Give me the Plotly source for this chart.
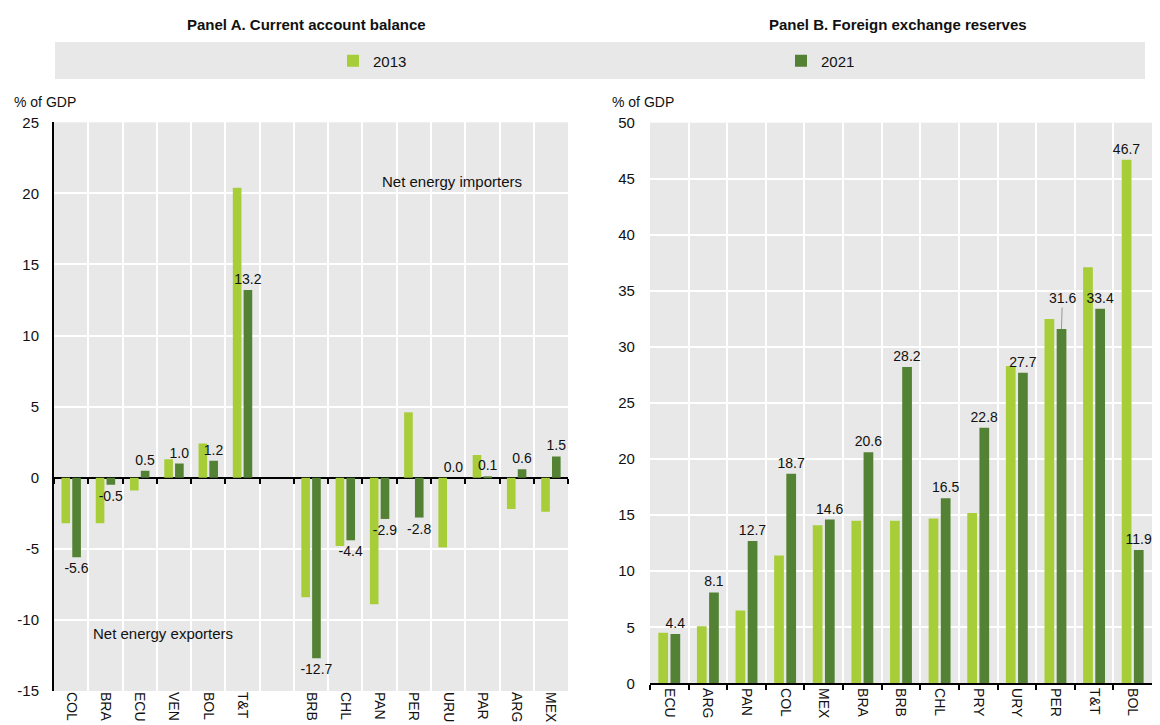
import plotly.graph_objects as go

# Panel A: current account balance (% of GDP); " " is the gap between groups
ca_countries = ["COL", "BRA", "ECU", "VEN", "BOL", "T&T", " ",
                "BRB", "CHL", "PAN", "PER", "URU", "PAR", "ARG", "MEX"]
ca_2013 = [-3.2, -3.2, -0.9, 1.3, 2.4, 20.4, None,
           -8.4, -4.8, -8.9, 4.6, -4.9, 1.6, -2.2, -2.4]
ca_2021 = [-5.6, -0.5, 0.5, 1.0, 1.2, 13.2, None,
           -12.7, -4.4, -2.9, -2.8, 0.0, 0.1, 0.6, 1.5]
ca_ticks = [-15, -10, -5, 0, 5, 10, 15, 20, 25]

# Panel B: foreign exchange reserves (% of GDP)
fx_countries = ["ECU", "ARG", "PAN", "COL", "MEX", "BRA", "BRB",
                "CHL", "PRY", "URY", "PER", "T&T", "BOL"]
fx_2013 = [4.5, 5.1, 6.5, 11.4, 14.1, 14.5, 14.5, 14.7, 15.2, 28.3, 32.5, 37.1, 46.7]
fx_2021 = [4.4, 8.1, 12.7, 18.7, 14.6, 20.6, 28.2, 16.5, 22.8, 27.7, 31.6, 33.4, 11.9]

LIGHT = "#a7cd39"
DARK = "#548235"
BG = "#e8e8e8"
FONT = "Liberation Sans, Arial, sans-serif"

ya_range = [-15, 25]
ya_dom = [0.0469, 0.8313]
yb_dom = [0.0575, 0.8308]

# Helper Functions
def fmt(vals):
    return ["" if v is None else f"{v:.1f}" for v in vals]

def bar(x, y, name, color, xaxis, yaxis, text, legend, legend_id="legend"):
    return go.Bar(
        x=x, y=y, name=name, marker=dict(color=color, line=dict(width=0)),
        xaxis=xaxis, yaxis=yaxis, text=text, textposition="outside",
        constraintext="none", cliponaxis=False,
        textfont=dict(size=14, color="#111"), showlegend=legend,
        legend=legend_id, hoverinfo="x+y"
    )

def label(text, x, y, size=14, xanchor="center"):
    return dict(text=text, x=x / 1160, y=1 - y / 725, xref="paper", yref="paper",
                xanchor=xanchor, yanchor="middle", showarrow=False,
                font=dict(size=size))

fig = go.Figure()

# Panel A
fig.add_trace(bar(ca_countries, ca_2013, "2013", LIGHT, "x", "y", None, True, "legend"))
fig.add_trace(bar(ca_countries, ca_2021, "2021", DARK, "x", "y", fmt(ca_2021), True, "legend2"))

# Panel B (only BOL 2013 labelled; PER 2021 label gets a leader line)
fx_2013_text = ["" if c != "BOL" else f"{v:.1f}" for c, v in zip(fx_countries, fx_2013)]
fx_2021_text = ["" if c == "PER" else f"{v:.1f}" for c, v in zip(fx_countries, fx_2021)]
fig.add_trace(bar(fx_countries, fx_2013, "2013", LIGHT, "x2", "y2", fx_2013_text, False))
fig.add_trace(bar(fx_countries, fx_2021, "2021", DARK, "x2", "y2", fx_2021_text, False))

# empty trace so the zero-line tick axis of panel A gets drawn
fig.add_trace(go.Scatter(x=[], y=[], xaxis="x3", yaxis="y", showlegend=False))

zero_pos = ya_dom[0] + (0 - ya_range[0]) / (ya_range[1] - ya_range[0]) * (ya_dom[1] - ya_dom[0])

per_i = fx_countries.index("PER")
annotations = [
    label("<b>Panel A. Current account balance</b>", 306, 24, 15),
    label("<b>Panel B. Foreign exchange reserves</b>", 898, 24, 15),
    label("% of GDP", 12, 102, 14, "left"),
    label("% of GDP", 610, 102, 14, "left"),
    label("Net energy importers", 452, 181, 15),
    label("Net energy exporters", 163, 633, 15),
    dict(text=f"{fx_2021[per_i]:.1f}", x="PER", y=fx_2021[per_i], xref="x2", yref="y2",
         xshift=6, showarrow=True, arrowhead=0, arrowwidth=1, arrowcolor="#999",
         ax=1, ay=-31, font=dict(size=14, color="#111")),
]

legend_style = dict(orientation="h", y=1 - 61 / 725, xanchor="left", yanchor="middle",
                    bgcolor="rgba(0,0,0,0)", font=dict(size=15), itemclick=False)

fig.update_layout(
    width=1160, height=725,
    margin=dict(l=0, r=0, t=0, b=0),
    paper_bgcolor="white", plot_bgcolor=BG,
    font=dict(family=FONT, size=14, color="#111"),
    barmode="group", bargap=0.37, bargroupgap=0.2,
    shapes=[dict(type="rect", xref="paper", yref="paper",
                 x0=55 / 1160, x1=1145 / 1160, y0=1 - 79 / 725, y1=1 - 42 / 725,
                 fillcolor=BG, line=dict(width=0), layer="below")],
    legend=dict(x=333 / 1160, **legend_style),
    legend2=dict(x=781 / 1160, **legend_style),
    annotations=annotations,
    xaxis=dict(domain=[0.0466, 0.4897], type="category", categoryorder="array",
               categoryarray=ca_countries, tickson="boundaries", ticks="",
               tickangle=90, showgrid=True, gridcolor="white", gridwidth=1.5,
               showline=False, anchor="y", tickfont=dict(size=14), automargin=False),
    yaxis=dict(domain=ya_dom, range=ya_range, tickvals=ca_ticks,
               ticktext=[str(t) for t in ca_ticks], showgrid=True,
               gridcolor="white", gridwidth=1.5, zeroline=True, zerolinecolor="black",
               zerolinewidth=2, showline=True, linecolor="black", linewidth=2,
               ticks="", ticklabelstandoff=10, tickfont=dict(size=15), anchor="x",
               automargin=False),
    xaxis3=dict(overlaying="x", anchor="free", position=zero_pos, range=[-0.5, 14.5],
                tickvals=[i - 0.5 for i in range(16)], ticks="outside", ticklen=5,
                tickwidth=1.5, tickcolor="black", showticklabels=False,
                showgrid=False, zeroline=False, showline=False, automargin=False),
    xaxis2=dict(domain=[0.5603, 0.9931], type="category", categoryorder="array",
                categoryarray=fx_countries, tickson="boundaries", ticks="outside",
                ticklen=5, tickwidth=1.5, tickcolor="black", tickangle=90,
                showgrid=True, gridcolor="white", gridwidth=1.5, showline=True,
                linecolor="black", linewidth=2, anchor="y2", tickfont=dict(size=14),
                automargin=False),
    yaxis2=dict(domain=yb_dom, range=[0, 50], dtick=5, showgrid=True,
                gridcolor="white", gridwidth=1.5, zeroline=False, showline=False,
                ticks="", ticklabelstandoff=14, tickfont=dict(size=15), anchor="x2",
                automargin=False),
)

fig.write_html("out.html", config={"displayModeBar": False},
               post_script="document.body.style.margin='0';")
